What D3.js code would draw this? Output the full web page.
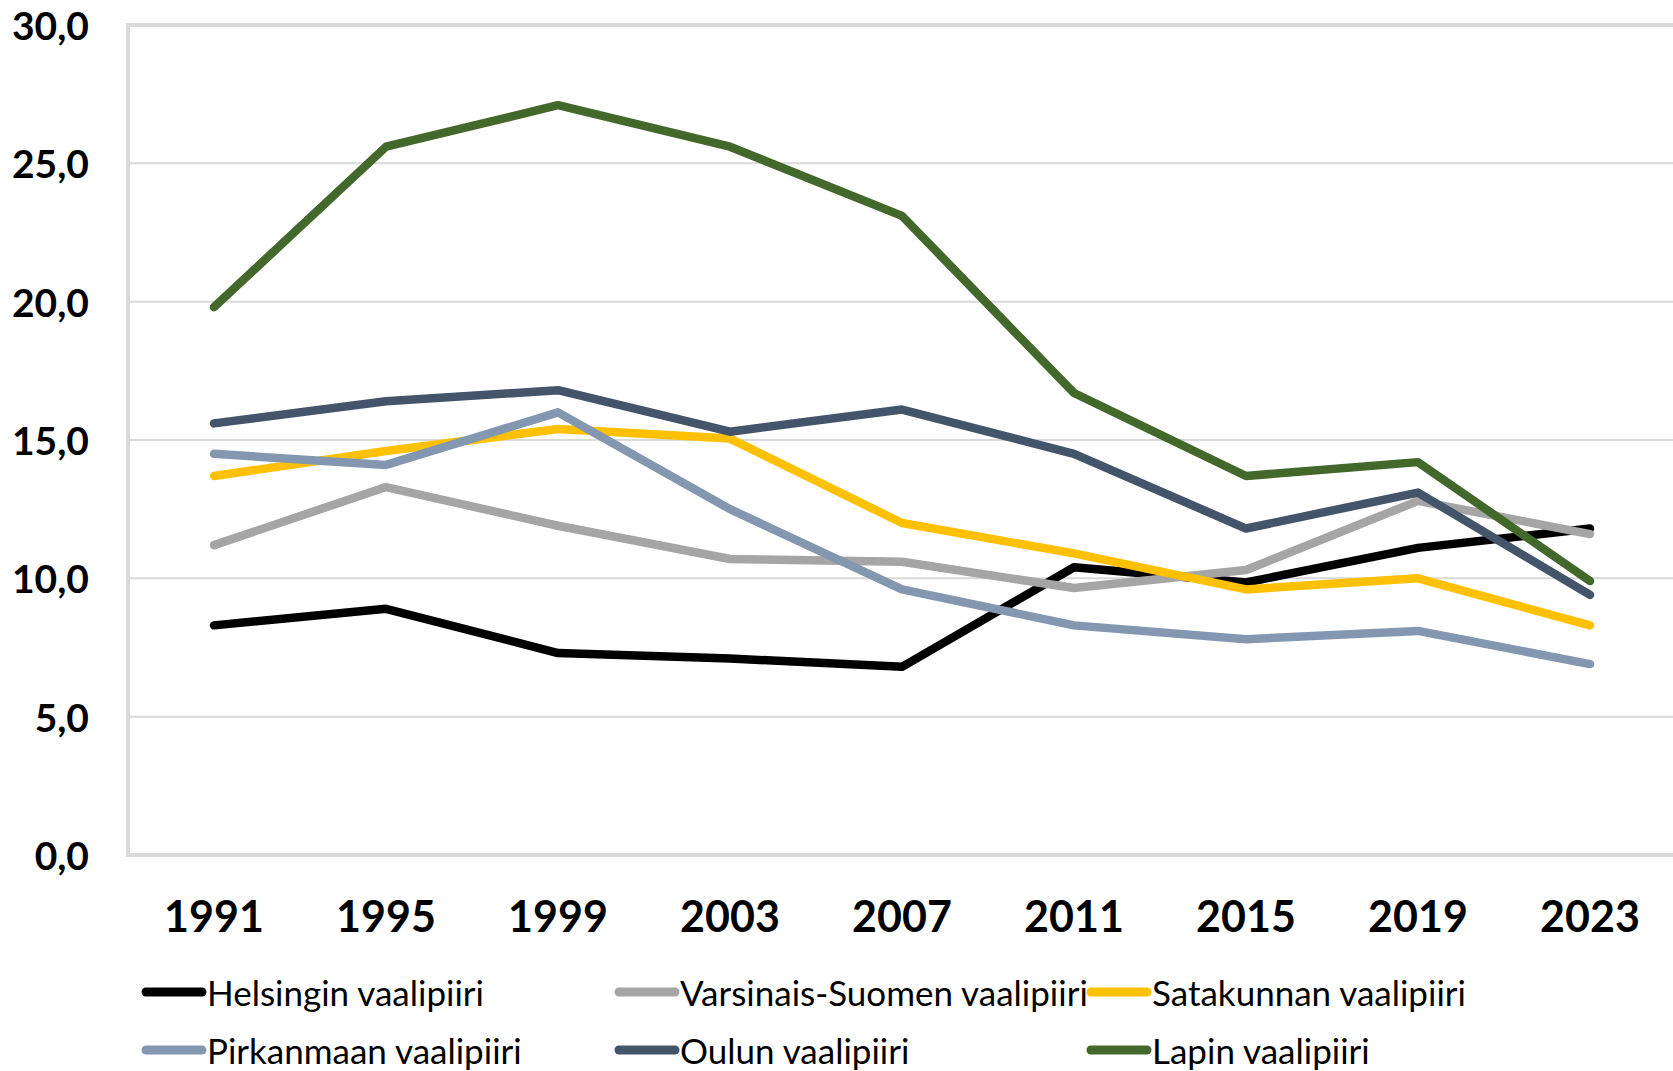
<!DOCTYPE html>
<html>
<head>
<meta charset="utf-8">
<script src="https://cdn.jsdelivr.net/npm/d3@7"></script>
<style>
  html, body { margin: 0; padding: 0; background: #fff; }
  svg { display: block; }
</style>
</head>
<body>
<svg id="chart" width="1673" height="1071"></svg>
<script>
const years = ["1991","1995","1999","2003","2007","2011","2015","2019","2023"];
const yTicks = [0, 5, 10, 15, 20, 25, 30];

const seriesNames = [
  "Helsingin vaalipiiri",
  "Varsinais-Suomen vaalipiiri",
  "Satakunnan vaalipiiri",
  "Pirkanmaan vaalipiiri",
  "Oulun vaalipiiri",
  "Lapin vaalipiiri"
];
const seriesColors = ["#000000", "#A5A5A5", "#FFC000", "#8497B0", "#44546A", "#43682B"];

const helsinki   = [8.3, 8.9, 7.3, 7.1, 6.8, 10.4, 9.85, 11.1, 11.8];
const varsinais  = [11.2, 13.3, 11.9, 10.7, 10.6, 9.65, 10.3, 12.8, 11.6];
const satakunta  = [13.7, 14.6, 15.4, 15.05, 12.0, 10.9, 9.6, 10.0, 8.3];
const pirkanmaa  = [14.5, 14.1, 16.0, 12.5, 9.6, 8.3, 7.8, 8.1, 6.9];
const oulu       = [15.6, 16.4, 16.8, 15.3, 16.1, 14.5, 11.8, 13.1, 9.4];
const lappi      = [19.8, 25.6, 27.1, 25.6, 23.1, 16.7, 13.7, 14.2, 9.9];

const seriesValues = [helsinki, varsinais, satakunta, pirkanmaa, oulu, lappi];

const svg = d3.select("#chart");
const plot = { left: 128, top: 25, right: 1676, bottom: 855 };

const x = d3.scalePoint().domain(years).range([plot.left, plot.right]).padding(0.5);
const y = d3.scaleLinear().domain([0, 30]).range([plot.bottom, plot.top]);

// gridlines
svg.append("g").selectAll("line").data(yTicks.filter(t => t > 0 && t < 30)).join("line")
  .attr("x1", plot.left).attr("x2", plot.right)
  .attr("y1", d => y(d)).attr("y2", d => y(d))
  .attr("stroke", "#D9D9D9").attr("stroke-width", 2);

// plot border
svg.append("rect")
  .attr("x", plot.left).attr("y", plot.top)
  .attr("width", plot.right - plot.left).attr("height", plot.bottom - plot.top)
  .attr("fill", "none").attr("stroke", "#D9D9D9").attr("stroke-width", 4);

// y axis labels
const fmt = v => d3.format(".1f")(v).replace(".", ",");
svg.append("g").selectAll("text").data(yTicks).join("text")
  .attr("x", 89).attr("y", d => y(d))
  .attr("text-anchor", "end").attr("dominant-baseline", "central")
  .attr("font-family", "Lato, 'Open Sans', sans-serif").attr("font-weight", "bold")
  .attr("font-size", 39).attr("fill", "#000")
  .text(fmt);

// x axis labels
svg.append("g").selectAll("text").data(years).join("text")
  .attr("x", d => x(d)).attr("y", 932)
  .attr("text-anchor", "middle")
  .attr("font-family", "Lato, 'Open Sans', sans-serif").attr("font-weight", "bold")
  .attr("font-size", 43).attr("fill", "#000")
  .text(d => d);

// lines
const line = d3.line().x((d, i) => x(years[i])).y(d => y(d));
svg.append("g").selectAll("path").data(seriesValues).join("path")
  .attr("d", d => line(d))
  .attr("fill", "none")
  .attr("stroke", (d, i) => seriesColors[i])
  .attr("stroke-width", 8.5)
  .attr("stroke-linejoin", "round")
  .attr("stroke-linecap", "round");

// legend
const legendCols = [146, 619, 1091];
const legendRows = [992, 1050];
const leg = svg.append("g").selectAll("g").data(seriesNames).join("g")
  .attr("transform", (d, i) => `translate(${legendCols[i % 3]},${legendRows[Math.floor(i / 3)]})`);
leg.append("line")
  .attr("x1", 0).attr("x2", 56).attr("y1", 0).attr("y2", 0)
  .attr("stroke", (d, i) => seriesColors[i])
  .attr("stroke-width", 9).attr("stroke-linecap", "round");
leg.append("text")
  .attr("x", 61).attr("y", 0)
  .attr("dominant-baseline", "central")
  .attr("font-family", "Lato, 'Open Sans', sans-serif")
  .attr("font-size", 35).attr("fill", "#000")
  .text(d => d);
</script>
</body>
</html>
